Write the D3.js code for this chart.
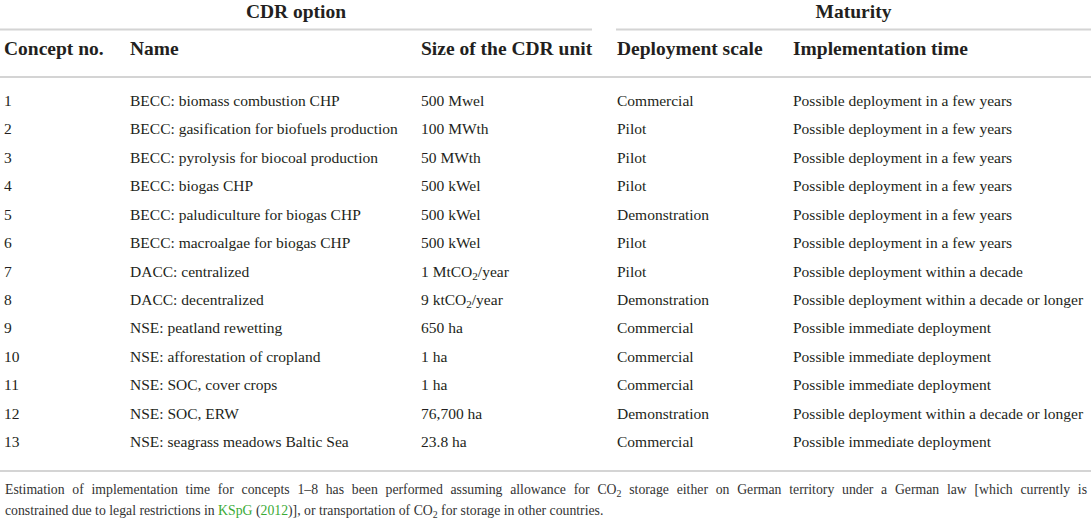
<!DOCTYPE html>
<html><head><meta charset="utf-8">
<script src="https://cdn.jsdelivr.net/npm/d3@7"></script>
<style>
html,body{margin:0;padding:0;background:#fff;}
svg{display:block;}
</style></head>
<body>
<svg id="chart" width="1091" height="520"></svg>
<script>
// ---- data ----
const groupHeaders = ["CDR option", "Maturity"];
const columnHeaders = ["Concept no.", "Name", "Size of the CDR unit", "Deployment scale", "Implementation time"];
const conceptNos = ["1","2","3","4","5","6","7","8","9","10","11","12","13"];
const names = [
  "BECC: biomass combustion CHP",
  "BECC: gasification for biofuels production",
  "BECC: pyrolysis for biocoal production",
  "BECC: biogas CHP",
  "BECC: paludiculture for biogas CHP",
  "BECC: macroalgae for biogas CHP",
  "DACC: centralized",
  "DACC: decentralized",
  "NSE: peatland rewetting",
  "NSE: afforestation of cropland",
  "NSE: SOC, cover crops",
  "NSE: SOC, ERW",
  "NSE: seagrass meadows Baltic Sea"
];
const unitSizes = ["500 Mwel","100 MWth","50 MWth","500 kWel","500 kWel","500 kWel","1 MtCO2/year","9 ktCO2/year","650 ha","1 ha","1 ha","76,700 ha","23.8 ha"];
const deploymentScales = ["Commercial","Pilot","Pilot","Pilot","Demonstration","Pilot","Pilot","Demonstration","Commercial","Commercial","Commercial","Demonstration","Commercial"];
const implementationTimes = [
  "Possible deployment in a few years",
  "Possible deployment in a few years",
  "Possible deployment in a few years",
  "Possible deployment in a few years",
  "Possible deployment in a few years",
  "Possible deployment in a few years",
  "Possible deployment within a decade",
  "Possible deployment within a decade or longer",
  "Possible immediate deployment",
  "Possible immediate deployment",
  "Possible immediate deployment",
  "Possible deployment within a decade or longer",
  "Possible immediate deployment"
];
const footnoteLine1 = "Estimation of implementation time for concepts 1–8 has been performed assuming allowance for CO2 storage either on German territory under a German law [which currently is";
const footnoteLine2 = [
  {t:"constrained due to legal restrictions in ", link:false},
  {t:"KSpG", link:true},
  {t:" (", link:false},
  {t:"2012", link:true},
  {t:")], or transportation of CO2 for storage in other countries.", link:false}
];

// ---- layout ----
const W = 1091;
const serif = "'Liberation Serif','Times New Roman',serif";
const textColor = "#231f20";
const ruleColor = "#d4d4d4";
const linkColor = "#3aaa35";
const svg = d3.select("#chart");

const colX = d3.scaleOrdinal().domain(columnHeaders).range([4, 130, 421, 617, 793]);
const rowY = d3.scalePoint().domain(conceptNos).range([106, 447]);

// add text with CO2 subscripts
function addRich(sel, str, size) {
  const shift = size * 0.2;
  const parts = str.split(/(CO2)/);
  let shifted = false;
  parts.forEach(p => {
    if (p === "CO2") {
      const a = sel.append("tspan").text("CO");
      if (shifted) { a.attr("dy", -shift); shifted = false; }
      sel.append("tspan").text("2").attr("font-size", size*0.72).attr("dy", shift);
      shifted = true;
    } else if (p.length) {
      const t = sel.append("tspan").text(p);
      if (shifted) { t.attr("dy", -shift); shifted = false; }
    }
  });
}

// group headers
const groupSpans = [[0, 592], [616, W]];
groupHeaders.forEach((g, i) => {
  const [a, b] = groupSpans[i];
  svg.append("text").attr("x", (a+b)/2).attr("y", 18).attr("text-anchor", "middle")
    .attr("font-family", serif).attr("font-weight", "bold").attr("font-size", 19.5)
    .attr("fill", textColor).text(g);
  svg.append("line").attr("x1", a).attr("x2", b).attr("y1", 29.5).attr("y2", 29.5)
    .attr("stroke", ruleColor).attr("stroke-width", 2);
});

// column headers
svg.append("g").selectAll("text").data(columnHeaders).join("text")
  .attr("x", d => colX(d)).attr("y", 55)
  .attr("font-family", serif).attr("font-weight", "bold").attr("font-size", 19.5)
  .attr("fill", textColor).text(d => d);

svg.append("line").attr("x1", 0).attr("x2", W).attr("y1", 77).attr("y2", 77)
  .attr("stroke", ruleColor).attr("stroke-width", 2);

// body
const columns = [conceptNos, names, unitSizes, deploymentScales, implementationTimes];
const bodySize = 15.5;
columns.forEach((col, ci) => {
  svg.append("g").selectAll("text").data(col).join("text")
    .attr("x", colX(columnHeaders[ci]))
    .attr("y", (d, i) => rowY(conceptNos[i]))
    .attr("font-family", serif).attr("font-size", bodySize).attr("fill", textColor)
    .each(function(d) { addRich(d3.select(this), d, bodySize); });
});

svg.append("line").attr("x1", 0).attr("x2", W).attr("y1", 471).attr("y2", 471)
  .attr("stroke", ruleColor).attr("stroke-width", 2);

// footnote
const fnSize = 13.75;
const fnColor = "#333333";
const fnLeft = 5, fnRight = 1087;
// justified line 1: place words individually
const words = footnoteLine1.split(" ");
const gLine1 = svg.append("g");
const wordNodes = words.map(w => {
  const t = gLine1.append("text").attr("y", 494)
    .attr("font-family", serif).attr("font-size", fnSize).attr("fill", fnColor);
  addRich(t, w, fnSize);
  return t;
});
const widths = wordNodes.map(t => t.node().getComputedTextLength());
const total = d3.sum(widths);
const gap = (fnRight - fnLeft - total) / (words.length - 1);
let cx = fnLeft;
wordNodes.forEach((t, i) => { t.attr("x", cx); cx += widths[i] + gap; });

// line 2
const l2 = svg.append("text").attr("x", fnLeft).attr("y", 515)
  .attr("font-family", serif).attr("font-size", fnSize).attr("fill", fnColor);
footnoteLine2.forEach(seg => {
  if (seg.link) {
    l2.append("tspan").attr("fill", linkColor).text(seg.t);
  } else {
    addRich(l2, seg.t, fnSize);
  }
});
</script>
</body></html>
